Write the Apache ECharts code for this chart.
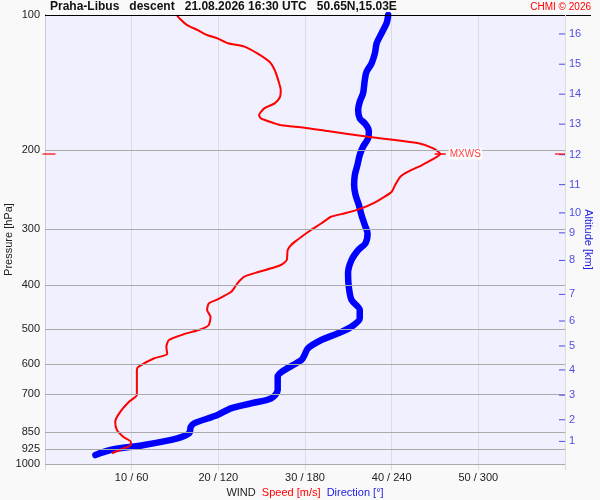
<!DOCTYPE html>
<html><head><meta charset="utf-8">
<script src="https://cdn.jsdelivr.net/npm/echarts@6/dist/echarts.min.js"></script>
<style>html,body{margin:0;padding:0;background:#f9f9f9}#c{width:600px;height:500px}</style>
</head><body><div id="c"></div>
<script>
// ---- data ----
const titleText = 'Praha-Libus   descent   21.08.2026 16:30 UTC   50.65N,15.03E';
const creditText = 'CHMI \u00a9 2026';
const pressureTicks = [100, 200, 300, 400, 500, 600, 700, 850, 925, 1000];
const speedTicks = [10, 20, 30, 40, 50];
const dirTicks = [60, 120, 180, 240, 300];
const altKm = [1, 2, 3, 4, 5, 6, 7, 8, 9, 10, 11, 12, 13, 14, 15, 16];
const altPressure = [890.5, 797, 702.6, 617.2, 545.9, 480.3, 419, 352.1, 305.6, 275.9, 238.7, 204.7, 175, 150.1, 128.7, 110.2];

const speedPressure = [100,101.7,105.3,108,110.8,112.7,115.6,117.6,121.7,127.1,132.6,139.5,146.9,152.5,157.3,161.4,167,169.9,174.3,176.1,178.2,181.3,186.7,189.9,193.1,198.1,204,210.3,215.9,223.4,229.2,239.2,247.5,253.9,261.3,269.5,276.5,281.4,291,301.2,311.7,317,325.3,333.8,351.3,358.6,364.7,374.2,382.7,396,413.4,429.9,438.7,454,469.9,490.3,501.2,514.2,529.5,548,568.9,581.5,607.1,617.5,661.1,702,726.5,764.7,805,840,872,891.9,907.2,922.6,946.6];
const speedValues = [15.2,15.5,16.4,17.6,18.7,19.9,21.1,23.0,24.5,25.9,26.5,26.9,27.2,27.1,26.5,25.3,24.7,24.9,26.5,27.3,29.9,32.6,37.3,40.4,43.1,44.8,45.6,44.6,43.5,41.9,41.0,40.4,40.0,39.2,38.1,36.5,34.6,33.0,31.9,30.7,29.6,29.1,28.4,28.0,27.9,27.4,26.5,24.5,23.0,22.2,21.5,19.9,18.9,18.7,19.1,18.9,18.0,16.0,14.3,14.0,14.1,12.6,10.8,10.6,10.6,10.6,9.7,8.7,8.1,8.3,9.1,9.9,9.9,9.1,7.7];

const dirPressure = [100,104.3,109.8,115.6,121.7,128.1,133.8,139.5,149.4,156,162.7,169.9,174.3,178.8,181.9,188.2,196.5,205,215.9,227.1,239.2,251.7,265,278.9,293.6,306.4,322.4,333.8,351.3,376.1,402.8,431.2,454,473.8,494.6,511.7,529.5,552.6,571.8,586.8,617.5,639,684.2,714.2,732.7,751.6,777.9,811.8,827.3,854.4,876.6,907.2,930.6,955];
const dirValues = [237.6,236.5,233.0,229.6,228.4,226.1,222.6,221.4,220.2,217.9,216.8,217.9,221.4,223.7,224.2,223.7,220.2,217.9,216.3,214.5,214.0,215.0,217.3,219.1,221.4,223.3,221.9,216.8,212.2,209.8,210.3,212.2,217.9,217.9,212.2,202.9,191.3,182.0,179.7,177.4,165.8,161.1,161.1,156.6,142.7,128.7,119.4,103.2,100.9,99.8,91.6,68.5,45.3,34.9];

// ---- build ----
const FONT = 'Liberation Sans, Arial, sans-serif';
const RED = '#ff0000', BLUE = '#0000ff', ALTBLUE = '#2020e0';
let iMax = 0;
speedValues.forEach((v, i) => { if (v > speedValues[iMax]) iMax = i; });
const pMax = speedPressure[iMax], sMax = speedValues[iMax];

const chart = echarts.init(document.getElementById('c'), null, {renderer: 'canvas'});
chart.setOption({
  backgroundColor: '#f9f9f9',
  animation: false,
  textStyle: {fontFamily: FONT},
  title: [
    {text: titleText, left: 50, top: 1, padding: 0, textStyle: {fontSize: 12, fontWeight: 'bold', color: '#111', fontFamily: FONT}},
    {text: creditText, right: 9, top: 2, padding: 0, textStyle: {fontSize: 10, fontWeight: 'normal', color: RED, fontFamily: FONT}}
  ],
  grid: {left: 45, right: 35, top: 15, bottom: 36, containLabel: false, outerBoundsMode: 'none',
         show: true, backgroundColor: '#f0f0ff', borderWidth: 0},
  xAxis: [
    {type: 'value', min: 0, max: 60, interval: 10, position: 'bottom',
     axisLine: {show: false},
     axisTick: {show: true, length: 6, lineStyle: {color: '#dcdcdc'}},
     axisLabel: {color: '#222', fontSize: 11, margin: 8, fontFamily: FONT,
       formatter: v => { const i = speedTicks.indexOf(v); return i < 0 ? '' : speedTicks[i] + ' / ' + dirTicks[i]; }},
     splitLine: {show: true, lineStyle: {color: '#dcdcdc'}},
     name: '{w|WIND}  {s|Speed [m/s]}  {d|Direction [\u00b0]}', nameLocation: 'middle', nameGap: 21,
     nameTextStyle: {fontSize: 11, fontFamily: FONT, rich: {
       w: {color: '#222', fontSize: 11, fontFamily: FONT},
       s: {color: RED, fontSize: 11, fontFamily: FONT},
       d: {color: ALTBLUE, fontSize: 11, fontFamily: FONT}}}},
    {type: 'value', min: 0, max: 360, show: false}
  ],
  yAxis: [
    {type: 'log', logBase: 10, min: 100, max: 1000, inverse: true, position: 'left',
     axisLine: {show: true, lineStyle: {color: '#000'}},
     axisTick: {show: false}, axisLabel: {show: false}, splitLine: {show: false},
     name: 'Pressure [hPa]', nameLocation: 'middle', nameGap: 31,
     nameTextStyle: {color: '#222', fontSize: 11, fontFamily: FONT}},
    {type: 'log', logBase: 10, min: 100, max: 1000, inverse: true, position: 'right',
     axisLine: {show: true, lineStyle: {color: '#cccccc'}},
     axisTick: {show: false}, axisLabel: {show: false}, splitLine: {show: false},
     name: 'Altitude [km]', nameLocation: 'middle', nameGap: 18, nameRotate: -90,
     nameTextStyle: {color: ALTBLUE, fontSize: 11, fontFamily: FONT}}
  ],
  graphic: [
    {type: 'line', shape: {x1: 565, y1: 15.5, x2: 591, y2: 15.5}, style: {stroke: '#000', lineWidth: 1}, silent: true}
  ],
  series: [
    {type: 'line', name: 'grid', xAxisIndex: 0, yAxisIndex: 0, data: [], z: 1, silent: true,
     markLine: {silent: true, symbol: 'none', animation: false,
       lineStyle: {color: '#aaaaaa', type: 'solid', width: 1},
       label: {show: true, position: 'start', distance: 5, color: '#222', fontSize: 11, fontFamily: FONT,
               formatter: p => String(p.value)},
       data: pressureTicks.map(p => p === 100 ? {yAxis: p, lineStyle: {color: '#000'}} : {yAxis: p})}},
    {type: 'line', name: 'Direction', xAxisIndex: 1, yAxisIndex: 0, z: 3,
     data: dirValues.map((d, i) => [d, dirPressure[i]]),
     showSymbol: false, smooth: 0.3, lineStyle: {color: BLUE, width: 6.5, cap: 'round', join: 'round'}, silent: true},
    {type: 'line', name: 'Speed', xAxisIndex: 0, yAxisIndex: 0, z: 4,
     data: speedValues.map((s, i) => [s, speedPressure[i]]),
     showSymbol: false, smooth: 0.2, lineStyle: {color: RED, width: 2}, silent: true,
     markPoint: {silent: true, animation: false,
       data: [{coord: [sMax, pMax], symbol: 'rect', symbolSize: [11, 1.5], symbolOffset: [0, 0],
         itemStyle: {color: RED},
         label: {show: true, position: 'right', distance: 3, formatter: 'MXWS', color: '#ff4040',
                 fontSize: 10, fontFamily: FONT, backgroundColor: '#ffffff', padding: [1, 1, 0, 1]}}]}},
    {type: 'scatter', name: 'alt', xAxisIndex: 0, yAxisIndex: 0, z: 5, silent: true,
     data: altPressure.map((p, i) => [60, p, altKm[i]]),
     symbol: 'rect', symbolSize: [6, 1], symbolOffset: [-3, 0], itemStyle: {color: ALTBLUE},
     label: {show: true, position: 'right', distance: 4, color: ALTBLUE, fontSize: 11, fontFamily: FONT,
             formatter: p => String(p.value[2])}},
    {type: 'scatter', name: 'mxwsTicks', xAxisIndex: 0, yAxisIndex: 0, z: 6, silent: true,
     itemStyle: {color: RED},
     data: [
       {value: [0, pMax], symbol: 'rect', symbolSize: [13, 1.5], symbolOffset: [4, 0]},
       {value: [60, pMax], symbol: 'rect', symbolSize: [10, 1.5], symbolOffset: [-5, 0]}
     ]}
  ]
});
</script>
</body></html>
